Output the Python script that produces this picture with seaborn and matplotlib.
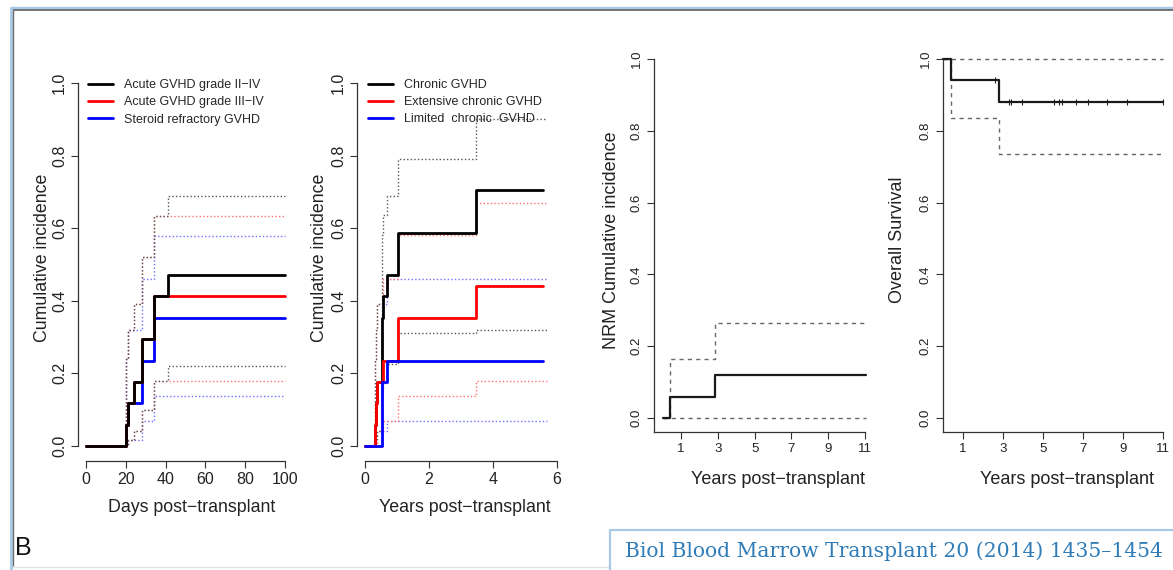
import numpy as np
import seaborn as sns
import matplotlib.pyplot as plt
from matplotlib.lines import Line2D

# -------------------------
# 1. Data
# -------------------------
# Panel 1: acute GVHD, days post-transplant
acute24_t = [0, 20, 21, 24, 28, 34, 41, 100]
acute24_y = [0, 0.059, 0.118, 0.176, 0.294, 0.412, 0.471, 0.471]
acute24_hi = [0, 0.24, 0.32, 0.39, 0.52, 0.633, 0.69, 0.69]
acute24_lo = [0, 0.003, 0.017, 0.041, 0.10, 0.18, 0.22, 0.22]

acute34_t = [0, 20, 21, 24, 28, 34, 100]
acute34_y = [0, 0.059, 0.118, 0.176, 0.294, 0.412, 0.412]
acute34_hi = [0, 0.24, 0.32, 0.39, 0.52, 0.633, 0.633]
acute34_lo = [0, 0.003, 0.017, 0.041, 0.10, 0.18, 0.18]

steroid_t = [0, 20, 21, 28, 34, 100]
steroid_y = [0, 0.059, 0.118, 0.235, 0.353, 0.353]
steroid_hi = [0, 0.24, 0.32, 0.459, 0.578, 0.578]
steroid_lo = [0, 0.003, 0.017, 0.069, 0.139, 0.139]

# Panel 2: chronic GVHD, years post-transplant
chronic_t = [0, 0.31, 0.34, 0.38, 0.52, 0.55, 0.70, 1.02, 1.04, 3.46, 5.57]
chronic_y = [0, 0.059, 0.118, 0.176, 0.353, 0.412, 0.471, 0.529, 0.588, 0.706, 0.706]
chronic_ci_t = [0, 0.31, 0.34, 0.38, 0.52, 0.55, 0.70, 1.04, 3.46, 5.68]
chronic_hi = [0, 0.24, 0.32, 0.39, 0.58, 0.636, 0.69, 0.79, 0.90, 0.90]
chronic_lo = [0, 0.0, 0.02, 0.04, 0.16, 0.20, 0.225, 0.31, 0.32, 0.32]

extensive_t = [0, 0.31, 0.34, 0.38, 0.55, 1.04, 3.46, 5.57]
extensive_y = [0, 0.059, 0.118, 0.176, 0.235, 0.353, 0.44, 0.44]
extensive_ci_t = [0, 0.31, 0.34, 0.38, 0.55, 1.04, 3.46, 5.68]
extensive_hi = [0, 0.24, 0.32, 0.39, 0.46, 0.58, 0.67, 0.67]
extensive_lo = [0, 0.0, 0.0, 0.04, 0.07, 0.137, 0.18, 0.18]

limited_t = [0, 0.52, 0.70, 5.57]
limited_y = [0, 0.176, 0.235, 0.235]
limited_ci_t = [0, 0.52, 0.70, 5.68]
limited_hi = [0, 0.39, 0.46, 0.46]
limited_lo = [0, 0.04, 0.07, 0.07]

# Panel 3: non-relapse mortality
nrm_t = [0, 0.40, 2.85, 11.05]
nrm_y = [0, 0.059, 0.121, 0.121]
nrm_hi = [0, 0.165, 0.265, 0.265]
nrm_lo = [0, 0, 0, 0]

# Panel 4: overall survival
os_t = [0, 0.40, 2.80, 11.0]
os_y = [1.0, 0.941, 0.879, 0.879]
os_hi = [1.0, 1.0, 1.0, 1.0]
os_lo = [1.0, 0.836, 0.735, 0.735]
os_censor = [2.6, 3.3, 3.4, 3.93, 5.55, 5.82, 5.93, 6.65, 7.27, 8.2, 9.18, 11.0]

year_ticks = [1, 3, 5, 7, 9, 11]
prob_ticks = [0.0, 0.2, 0.4, 0.6, 0.8, 1.0]

# -------------------------
# 2. Figure set-up
# -------------------------
sns.set_style("ticks")
plt.rcParams['font.family'] = ['Liberation Sans', 'DejaVu Sans']

W, H = 1173, 570
fig = plt.figure(figsize=(W / 100, H / 100), dpi=100)

AXC = '#333333'
DOT = (0, (1, 1.6))
DASH = (0, (3, 3))


def add_axes(left, top, right, bottom):
    return fig.add_axes([left / W, 1 - bottom / H, (right - left) / W, (bottom - top) / H])


def step(ax, t, y, **kw):
    sns.lineplot(x=t, y=y, drawstyle='steps-post', estimator=None, sort=False,
                 legend=False, ax=ax, **kw)


def style_axes(ax, box, tick_fs, label_fs, xlabel, ylabel, ylab_px, xlab_px):
    left, top, right, bottom = box
    for s in ['top', 'right']:
        ax.spines[s].set_visible(False)
    for s in ['left', 'bottom']:
        ax.spines[s].set_color(AXC)
        ax.spines[s].set_linewidth(0.9)
    ax.set_yticks(prob_ticks)
    ax.set_yticklabels([f"{v:.1f}" for v in prob_ticks])
    ax.tick_params(axis='both', direction='out', length=5, width=0.8, color=AXC,
                   labelsize=tick_fs, labelcolor='#222222')
    ax.tick_params(axis='y', labelrotation=90, pad=3)
    ax.tick_params(axis='x', pad=3)
    for lab in ax.get_yticklabels():
        lab.set_va('center')
    ax.set_xlabel(xlabel, fontsize=label_fs, color='#222222', va='center')
    ax.set_ylabel(ylabel, fontsize=label_fs, color='#222222', va='center')
    ax.xaxis.set_label_coords((xlab_px[0] - left) / (right - left),
                              (bottom - xlab_px[1]) / (bottom - top))
    ax.yaxis.set_label_coords((ylab_px[0] - left) / (right - left),
                              (bottom - ylab_px[1]) / (bottom - top))
    ax.set_facecolor('none')


# -------------------------
# 3. Panel 1 - acute GVHD
# -------------------------
box1 = (78, 68.5, 293, 460.5)
ax1 = add_axes(*box1)
for t, hi, lo, c in [(steroid_t, steroid_hi, steroid_lo, '#7070ff'),
                     (acute34_t, acute34_hi, acute34_lo, '#ff7070'),
                     (acute24_t, acute24_hi, acute24_lo, '#555555')]:
    step(ax1, t, hi, color=c, lw=1.0, linestyle=DOT)
    step(ax1, t, lo, color=c, lw=1.0, linestyle=DOT)
step(ax1, steroid_t, steroid_y, color='#0000ff', lw=2.0, label='Steroid refractory GVHD')
step(ax1, acute34_t, acute34_y, color='#ff0000', lw=2.0, label='Acute GVHD grade III\u2212IV')
step(ax1, acute24_t, acute24_y, color='black', lw=2.0, label='Acute GVHD grade II\u2212IV')
ax1.set_xlim(-4, 104)
ax1.set_ylim(-0.04, 1.04)
ax1.set_xticks([0, 20, 40, 60, 80, 100])
ax1.spines['left'].set_bounds(0, 1)
ax1.spines['bottom'].set_bounds(0, 100)
style_axes(ax1, box1, 11.5, 12.8, 'Days post\u2212transplant', 'Cumulative incidence',
           (42, 258), (192, 507))
h, l = ax1.get_legend_handles_labels()
ax1.legend(h[::-1], l[::-1], loc='upper left', bbox_to_anchor=(0.046, 0.973),
           frameon=False, fontsize=9, handlelength=2.0, handletextpad=0.9,
           labelspacing=0.42, borderpad=0, borderaxespad=0)

# -------------------------
# 4. Panel 2 - chronic GVHD
# -------------------------
box2 = (357.3, 68.5, 564.7, 460.5)
ax2 = add_axes(*box2)
for t, hi, lo, c in [(limited_ci_t, limited_hi, limited_lo, '#7070ff'),
                     (extensive_ci_t, extensive_hi, extensive_lo, '#ff7070'),
                     (chronic_ci_t, chronic_hi, chronic_lo, '#555555')]:
    step(ax2, t, hi, color=c, lw=1.0, linestyle=DOT)
    step(ax2, t, lo, color=c, lw=1.0, linestyle=DOT)
step(ax2, chronic_t, chronic_y, color='black', lw=2.0, label='Chronic GVHD')
step(ax2, extensive_t, extensive_y, color='#ff0000', lw=2.0, label='Extensive chronic GVHD')
step(ax2, limited_t, limited_y, color='#0000ff', lw=2.0, label='Limited  chronic  GVHD')
ax2.set_xlim(-0.24, 6.24)
ax2.set_ylim(-0.04, 1.04)
ax2.set_xticks([0, 2, 4, 6])
ax2.spines['left'].set_bounds(0, 1)
ax2.spines['bottom'].set_bounds(0, 6)
style_axes(ax2, box2, 11.5, 12.8, 'Years post\u2212transplant', 'Cumulative incidence',
           (320, 258), (465, 507))
ax2.legend(loc='upper left', bbox_to_anchor=(0.052, 0.973),
           frameon=False, fontsize=9, handlelength=2.0, handletextpad=0.9,
           labelspacing=0.40, borderpad=0, borderaxespad=0)

# -------------------------
# 5. Panel 3 - NRM
# -------------------------
box3 = (654, 59, 865, 432)
ax3 = add_axes(*box3)
step(ax3, nrm_t, nrm_hi, color='#666666', lw=1.0, linestyle=DASH, clip_on=False)
step(ax3, nrm_t, nrm_lo, color='#666666', lw=1.0, linestyle=DASH, clip_on=False)
step(ax3, nrm_t, nrm_y, color='#1a1a1a', lw=1.6, clip_on=False)
ax3.set_xlim(-0.467, 11.0)
ax3.set_ylim(-0.039, 1.0)
ax3.set_xticks(year_ticks)
style_axes(ax3, box3, 9.5, 13, 'Years post\u2212transplant', 'NRM Cumulative incidence',
           (612, 240), (778, 480))

# -------------------------
# 6. Panel 4 - overall survival
# -------------------------
box4 = (943, 59, 1163, 432)
ax4 = add_axes(*box4)
step(ax4, os_t, os_hi, color='#666666', lw=1.0, linestyle=DASH, clip_on=False)
step(ax4, os_t, os_lo, color='#666666', lw=1.0, linestyle=DASH, clip_on=False)
step(ax4, os_t, os_y, color='#1a1a1a', lw=1.6, clip_on=False)
censor_y = [os_y[np.searchsorted(os_t, c, side='right') - 1] for c in os_censor]
sns.scatterplot(x=os_censor, y=censor_y, marker='|', s=22, color='#222222',
                linewidth=0.8, legend=False, ax=ax4, clip_on=False)
ax4.set_xlim(0, 11.0)
ax4.set_ylim(-0.039, 1.0)
ax4.set_xticks(year_ticks)
style_axes(ax4, box4, 9.5, 13, 'Years post\u2212transplant', 'Overall Survival',
           (898, 240), (1067, 480))

# -------------------------
# 7. Page decorations (frame, panel letter, citation)
# -------------------------
def px_line(x0, y0, x1, y1, color, lw):
    fig.add_artist(Line2D([x0 / W, x1 / W], [1 - y0 / H, 1 - y1 / H],
                          transform=fig.transFigure, color=color, lw=lw,
                          solid_capstyle='butt'))


px_line(10, 7.5, W, 7.5, '#a9c9e8', 2.4)
px_line(11, 7, 11, H, '#a9c9e8', 2.0)
px_line(13, 10.3, W, 10.3, '#6b6b6b', 1.3)
px_line(13.2, 10, 13.2, 566, '#6b6b6b', 1.0)
px_line(13, 567, 609, 567, '#e2e2e2', 1.0)

px_line(609, 529.5, W, 529.5, '#a9c9e8', 1.6)
px_line(609.5, 529, 609.5, H, '#a9c9e8', 1.6)

fig.text(15 / W, 1 - 555 / H, 'B', fontsize=18, color='#111111', ha='left', va='baseline')
fig.text(625 / W, 1 - 551 / H, 'Biol Blood Marrow Transplant 20 (2014) 1435\u20131454',
         fontsize=14.6, color='#2f7cb8', family=['DejaVu Serif', 'Liberation Serif'],
         ha='left', va='center')

plt.savefig("out.png", dpi=100)
print("saved out.png")
